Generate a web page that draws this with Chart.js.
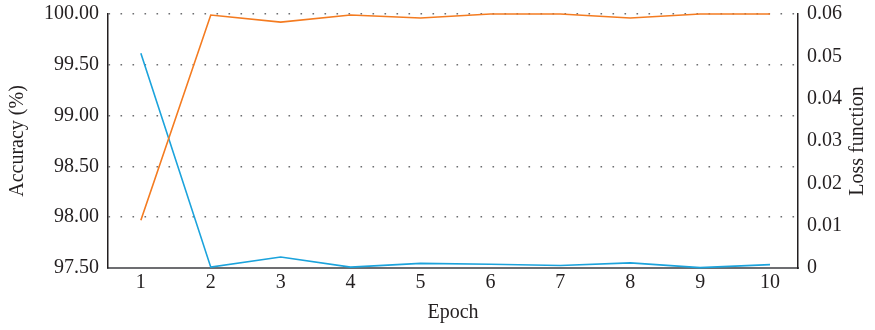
<!DOCTYPE html>
<html>
<head>
<meta charset="utf-8">
<script src="https://cdn.jsdelivr.net/npm/chart.js@4/dist/chart.umd.min.js"></script>
<style>
html,body{margin:0;padding:0;background:#fff;}
#wrap{width:875px;height:330px;position:relative;}
</style>
</head>
<body>
<div id="wrap"><canvas id="c" width="875" height="330"></canvas></div>
<script>
const epochs = [1, 2, 3, 4, 5, 6, 7, 8, 9, 10];
const accuracy = [97.97, 99.99, 99.92, 99.99, 99.96, 100, 100, 99.96, 100, 100];
const loss = [0.0507, 0.0002, 0.0026, 0.0002, 0.0011, 0.0009, 0.0006, 0.0012, 0.0001, 0.0008];
const accTicks = [97.5, 98.0, 98.5, 99.0, 99.5, 100.0];
const lossTicks = [0, 0.01, 0.02, 0.03, 0.04, 0.05, 0.06];

const FONT = "'Liberation Serif', 'Times New Roman', serif";
const TXT = '#231f20';
const FS = 20;

const rightTitle = {
  id: 'rightTitle',
  afterDraw(chart) {
    const ctx = chart.ctx, a = chart.chartArea;
    ctx.save();
    ctx.translate(858, (a.top + a.bottom) / 2);
    ctx.rotate(-Math.PI / 2);
    ctx.font = FS + 'px ' + FONT;
    ctx.fillStyle = TXT;
    ctx.textAlign = 'center';
    ctx.textBaseline = 'middle';
    ctx.fillText('Loss function', 0, 0);
    ctx.restore();
  }
};

function fixV(w) {
  return function (s) { s.width = w; s.paddingTop = 0; s.paddingBottom = 0; };
}

new Chart(document.getElementById('c'), {
  type: 'line',
  data: {
    datasets: [
      {
        label: 'Accuracy',
        data: epochs.map((e, i) => ({x: e, y: accuracy[i]})),
        borderColor: '#f47b20',
        borderWidth: 1.6,
        pointRadius: 0,
        tension: 0,
        yAxisID: 'y',
        clip: false
      },
      {
        label: 'Loss',
        data: epochs.map((e, i) => ({x: e, y: loss[i]})),
        borderColor: '#1ba3dc',
        borderWidth: 1.6,
        pointRadius: 0,
        tension: 0,
        yAxisID: 'y1',
        clip: false
      }
    ]
  },
  options: {
    responsive: false,
    animation: false,
    layout: {padding: {top: 14, right: 0, left: 0, bottom: 0}},
    plugins: {legend: {display: false}, tooltip: {enabled: false}},
    scales: {
      x: {
        type: 'linear',
        min: 0.53,
        max: 10.4,
        afterBuildTicks(s) { s.ticks = epochs.map(v => ({value: v})); },
        afterFit(s) { s.height = 62; s.paddingLeft = 0; s.paddingRight = 0; },
        grid: {display: false, drawTicks: false},
        border: {display: true, color: '#6d6e71', width: 2},
        ticks: {font: {family: FONT, size: FS}, color: TXT, padding: 3, maxRotation: 0, autoSkip: false},
        title: {display: true, text: 'Epoch', font: {family: FONT, size: FS}, color: TXT, padding: {top: 0, bottom: 5}}
      },
      y: {
        position: 'left',
        min: 97.5,
        max: 100,
        afterBuildTicks(s) { s.ticks = accTicks.map(v => ({value: v})); },
        afterFit: fixV(108),
        grid: {display: true, drawTicks: false, color: '#6d6e71', lineWidth: 1.6},
        border: {display: true, color: '#231f20', width: 1.5, dash: [1.6, 10.4]},
        ticks: {font: {family: FONT, size: FS}, color: TXT, padding: 9, callback: v => Number(v).toFixed(2)},
        title: {display: true, text: 'Accuracy (%)', font: {family: FONT, size: FS}, color: TXT, padding: {top: 6, bottom: 0}}
      },
      y1: {
        position: 'right',
        min: 0,
        max: 0.06,
        afterBuildTicks(s) { s.ticks = lossTicks.map(v => ({value: v})); },
        afterFit: fixV(77),
        grid: {display: false, drawTicks: false},
        border: {display: true, color: '#231f20', width: 1.5},
        ticks: {font: {family: FONT, size: FS}, color: TXT, padding: 9, callback: v => v === 0 ? '0' : Number(v).toFixed(2)}
      }
    }
  },
  plugins: [rightTitle]
});
</script>
</body>
</html>
